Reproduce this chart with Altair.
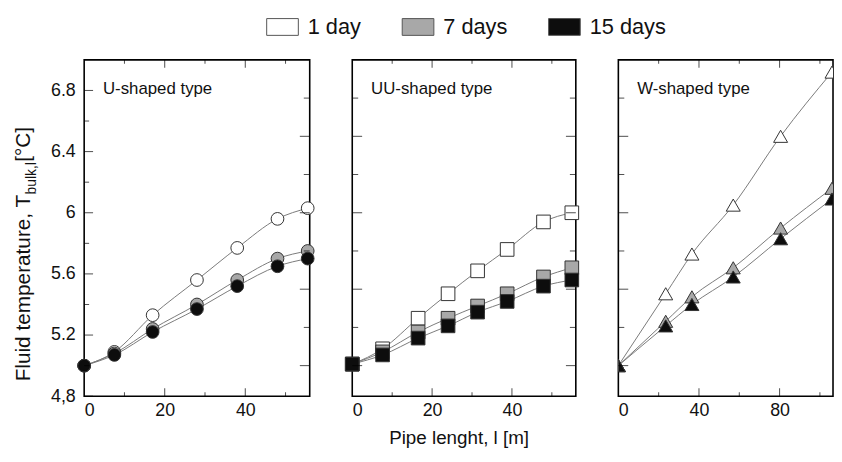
import altair as alt
import pandas as pd

FONT = "Liberation Sans"
series = ["1 day", "7 days", "15 days"]
fills = ["#ffffff", "#a8a8a8", "#0d0d0d"]

# U-shaped type
u_len = [0, 7.5, 17, 28, 38, 48, 55.5]
u_1 = [5.00, 5.09, 5.33, 5.56, 5.77, 5.96, 6.03]
u_7 = [5.00, 5.08, 5.24, 5.40, 5.56, 5.70, 5.75]
u_15 = [5.00, 5.07, 5.22, 5.37, 5.52, 5.65, 5.70]

# UU-shaped type
uu_len = [0, 7.6, 16.5, 24, 31.4, 38.8, 47.9, 55]
uu_1 = [5.01, 5.11, 5.31, 5.47, 5.62, 5.76, 5.94, 6.00]
uu_7 = [5.01, 5.09, 5.22, 5.31, 5.39, 5.47, 5.58, 5.64]
uu_15 = [5.01, 5.07, 5.18, 5.26, 5.35, 5.42, 5.52, 5.56]

# W-shaped type
w_len = [0, 23.5, 36.5, 57, 80.5, 106]
w_1 = [5.00, 5.47, 5.73, 6.05, 6.50, 6.92]
w_7 = [5.00, 5.29, 5.45, 5.64, 5.90, 6.16]
w_15 = [5.00, 5.26, 5.40, 5.58, 5.83, 6.09]

# ticks
y_labels = [4.8, 5.2, 5.6, 6.0, 6.4, 6.8]
y_minor_left = [5.0, 5.4, 5.8, 6.2, 6.6]
y_major_alt = [5.0, 5.5, 6.0, 6.5]
y_minor_alt = [5.25, 5.75, 6.25, 6.75]
x_labels_a = [0, 20, 40]
x_major_a = [20, 40]
x_minor_a = [10, 30, 50]
x_labels_w = [0, 40, 80]
x_major_w = [40, 80]
x_minor_w = [20, 60, 100]

H = 340
YDOM = [4.8, 7.0]


def build(lengths, s1, s7, s15):
    rows = []
    for name, vals in zip(series, [s1, s7, s15]):
        for l, v in zip(lengths, vals):
            rows.append({"len": l, "temp": v, "series": name})
    return pd.DataFrame(rows)


def tdf(vals):
    return pd.DataFrame({"v": vals})


def panel(df, xdom, W, shape, size, title, xlabels, xmaj, xmin,
          left_maj, left_min, left_len, first=False, right=True, clip=False, extra=()):
    xs = alt.Scale(domain=xdom, nice=False, zero=False)
    ys = alt.Scale(domain=YDOM, nice=False, zero=False)
    xaxis = alt.Axis(values=xlabels, ticks=False, tickSize=0, domain=False, grid=False,
                     labelFontSize=18, labelFont=FONT, labelColor="#111",
                     labelPadding=6, title=None)
    yaxis = alt.Axis(values=y_labels, ticks=False, tickSize=0, domain=False, grid=False,
                     labelFontSize=18, labelFont=FONT, labelColor="#111",
                     labelPadding=9, title=None, labels=first,
                     labelExpr="abs(datum.value-4.8)<0.001 ? '4,8' : (abs(datum.value-6)<0.001 ? '6' : format(datum.value,'.1f'))")

    lines = alt.Chart(df).mark_line(interpolate="monotone", color="#7a7a7a",
                                    strokeWidth=1, clip=clip).encode(
        x=alt.X("len:Q", scale=xs, axis=xaxis),
        y=alt.Y("temp:Q", scale=ys, axis=yaxis),
        detail="series:N",
    )
    pts = alt.Chart(df).mark_point(shape=shape, size=size, filled=True, opacity=1,
                                   stroke="#333", strokeWidth=1, clip=clip).encode(
        x=alt.X("len:Q", scale=xs, axis=xaxis),
        y=alt.Y("temp:Q", scale=ys, axis=yaxis),
        fill=alt.Fill("series:N", scale=alt.Scale(domain=series, range=fills),
                      legend=alt.Legend(title=None, orient="none", legendX=184, legendY=-50,
                                        direction="horizontal",
                                        symbolType="M-1,-0.53H1V0.53H-1Z", symbolSize=1024,
                                        symbolStrokeColor="#555", symbolStrokeWidth=1,
                                        labelFontSize=22, labelFont=FONT, labelColor="#111",
                                        labelOffset=9, columnPadding=39)),
    )

    def xt(vals, length, top):
        ypos = length / 2 if top else H - length / 2
        return alt.Chart(tdf(vals)).mark_tick(color="black", thickness=1, size=length).encode(
            x=alt.X("v:Q", scale=xs, axis=xaxis), y=alt.value(ypos))

    def yt(vals, length, rightside):
        xpos = W - length / 2 if rightside else length / 2
        return alt.Chart(tdf(vals)).mark_tick(color="black", thickness=1, size=length).encode(
            y=alt.Y("v:Q", scale=ys, axis=yaxis), x=alt.value(xpos))

    layers = [
        xt(xmaj, 8, False), xt(xmin, 4, False), xt(xmaj, 8, True), xt(xmin, 4, True),
        yt(left_maj, left_len[0], False), yt(left_min, left_len[1], False),
    ]
    if right:
        layers += [yt(y_major_alt, 10, True), yt(y_minor_alt, 6, True)]

    layers.append(alt.Chart(tdf([0])).mark_text(text=title, align="left", baseline="middle",
                                                fontSize=17, font=FONT, color="#111").encode(
        x=alt.value(19), y=alt.value(30)))
    layers += list(extra)
    return alt.layer(lines, pts, *layers).properties(width=W, height=H)


one = tdf([0])
ytitle = [
    alt.Chart(one).mark_text(text="Fluid temperature, T", angle=270, align="left",
                             baseline="middle", fontSize=21, font=FONT, color="#111").encode(
        x=alt.value(-61), y=alt.value(325)),
    alt.Chart(one).mark_text(text="bulk,l", angle=270, align="left",
                             baseline="middle", fontSize=14, font=FONT, color="#111").encode(
        x=alt.value(-53), y=alt.value(136)),
    alt.Chart(one).mark_text(text=" [°C]", angle=270, align="left",
                             baseline="middle", fontSize=21, font=FONT, color="#111").encode(
        x=alt.value(-61), y=alt.value(103)),
]
xtitle = [alt.Chart(one).mark_text(text="Pipe lenght, l [m]", align="center", baseline="middle",
                                   fontSize=19, font=FONT, color="#111").encode(
    x=alt.value(108), y=alt.value(H + 42))]

p1 = panel(build(u_len, u_1, u_7, u_15), [0, 56], 228, "circle", 165, "U-shaped type",
           x_labels_a, x_major_a, x_minor_a, y_labels, y_minor_left, (9, 5), first=True,
           extra=ytitle)
p2 = panel(build(uu_len, uu_1, uu_7, uu_15), [0, 56], 226, "square", 190, "UU-shaped type",
           x_labels_a, x_major_a, x_minor_a, y_major_alt, y_minor_alt, (10, 6),
           extra=xtitle)
p3 = panel(build(w_len, w_1, w_7, w_15), [0, 106.5], 217, "triangle-up", 200, "W-shaped type",
           x_labels_w, x_major_w, x_minor_w, y_major_alt, y_minor_alt, (10, 6),
           right=False, clip=True)

chart = alt.hconcat(p1, p2, p3, spacing=43, bounds="flush").properties(
    padding={"left": 4, "top": 0, "right": 0, "bottom": 4}
).configure_view(stroke="black", strokeWidth=1.6)

chart.save("out.html", embed_options={"renderer": "svg", "actions": False})
